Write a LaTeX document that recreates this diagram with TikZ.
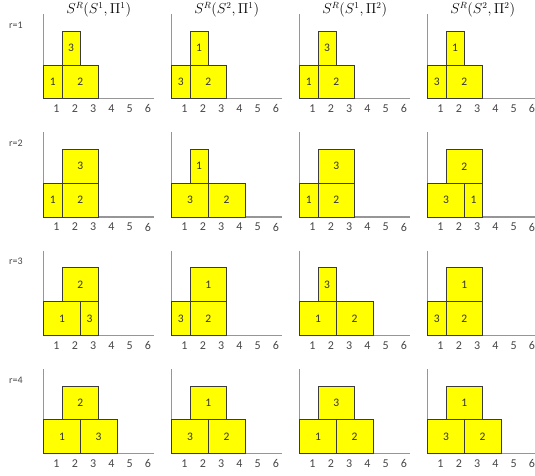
\documentclass[tikz,border=0pt]{standalone}
\usepackage{fontspec}
\setmainfont{Carlito}
\usepackage{tikz}
\usetikzlibrary{calc}
\definecolor{boxyellow}{RGB}{255, 255, 0}
\definecolor{boxedge}{RGB}{60, 60, 60}
\definecolor{axisgray}{RGB}{150, 150, 150}
\definecolor{txtgray}{RGB}{70, 70, 70}
\newcommand{\ux}{18.3}
\tikzset{
    blk/.style  ={draw=boxedge, line width=0.7pt, fill=boxyellow,
                  minimum height=33.8pt, inner sep=0pt, outer sep=0pt,
                  anchor=south west, text=black!80,
                  font=\fontsize{11.5}{13}\selectfont},
    axis/.style ={draw=axisgray, line width=1.2pt},
    tick/.style ={font=\fontsize{12}{14}\selectfont, text=txtgray, inner sep=0pt},
    ttl/.style  ={font=\fontsize{13.5}{15}\selectfont, inner sep=0pt},
    rlbl/.style ={font=\fontsize{10}{12}\selectfont, text=txtgray, inner sep=0pt}
}
% #1 panel name, #2 origin, #3 blocks: x/width/level/label
\newcommand{\chart}[3]{%
  \coordinate (#1) at #2;
  \draw[axis] ($(#1)+(0,84.7)$) coordinate (#1-top) -- (#1) -- ($(#1)+(110,0)$) coordinate (#1-end);
  \foreach \k in {1,...,6}
    \node[tick] (#1-t\k) at ($(#1)+({(\k-0.3)*\ux},-10)$) {\k};
  \foreach \bx/\bw/\bl/\bt in {#3}
    \node[blk, minimum width={\bw*\ux}] (#1-\bt) at ($(#1)+({\bx*\ux},{\bl*33.8})$) {\bt};
}

\begin{document}
\begin{tikzpicture}[x=1pt, y=1pt]
  \useasboundingbox (0,0) rectangle (535,476);

  % column headings
  \node[ttl] (ttl1) at ( 98.7,466) {$S^R(S^1,\Pi^1)$};
  \node[ttl] (ttl2) at (226.7,466) {$S^R(S^2,\Pi^1)$};
  \node[ttl] (ttl3) at (354.7,466) {$S^R(S^1,\Pi^2)$};
  \node[ttl] (ttl4) at (482.7,466) {$S^R(S^2,\Pi^2)$};

  % rounds
  \node[rlbl] (r1) at (16,451.0) {r=1};
  \node[rlbl] (r2) at (16,332.7) {r=2};
  \node[rlbl] (r3) at (16,214.4) {r=3};
  \node[rlbl] (r4) at (16, 96.1) {r=4};

  % r=1
  \chart{p11}{( 43.7,377.3)}{0/1/0/1, 1/2/0/2, 1/1/1/3}
  \chart{p12}{(171.7,377.3)}{0/1/0/3, 1/2/0/2, 1/1/1/1}
  \chart{p13}{(299.7,377.3)}{0/1/0/1, 1/2/0/2, 1/1/1/3}
  \chart{p14}{(427.7,377.3)}{0/1/0/3, 1/2/0/2, 1/1/1/1}

  % r=2
  \chart{p21}{( 43.7,259.0)}{0/1/0/1, 1/2/0/2, 1/2/1/3}
  \chart{p22}{(171.7,259.0)}{0/2/0/3, 2/2/0/2, 1/1/1/1}
  \chart{p23}{(299.7,259.0)}{0/1/0/1, 1/2/0/2, 1/2/1/3}
  \chart{p24}{(427.7,259.0)}{0/2/0/3, 2/1/0/1, 1/2/1/2}

  % r=3
  \chart{p31}{( 43.7,140.7)}{0/2/0/1, 2/1/0/3, 1/2/1/2}
  \chart{p32}{(171.7,140.7)}{0/1/0/3, 1/2/0/2, 1/2/1/1}
  \chart{p33}{(299.7,140.7)}{0/2/0/1, 2/2/0/2, 1/1/1/3}
  \chart{p34}{(427.7,140.7)}{0/1/0/3, 1/2/0/2, 1/2/1/1}

  % r=4
  \chart{p41}{( 43.7, 22.4)}{0/2/0/1, 2/2/0/3, 1/2/1/2}
  \chart{p42}{(171.7, 22.4)}{0/2/0/3, 2/2/0/2, 1/2/1/1}
  \chart{p43}{(299.7, 22.4)}{0/2/0/1, 2/2/0/2, 1/2/1/3}
  \chart{p44}{(427.7, 22.4)}{0/2/0/3, 2/2/0/2, 1/2/1/1}
\end{tikzpicture}
\end{document}
